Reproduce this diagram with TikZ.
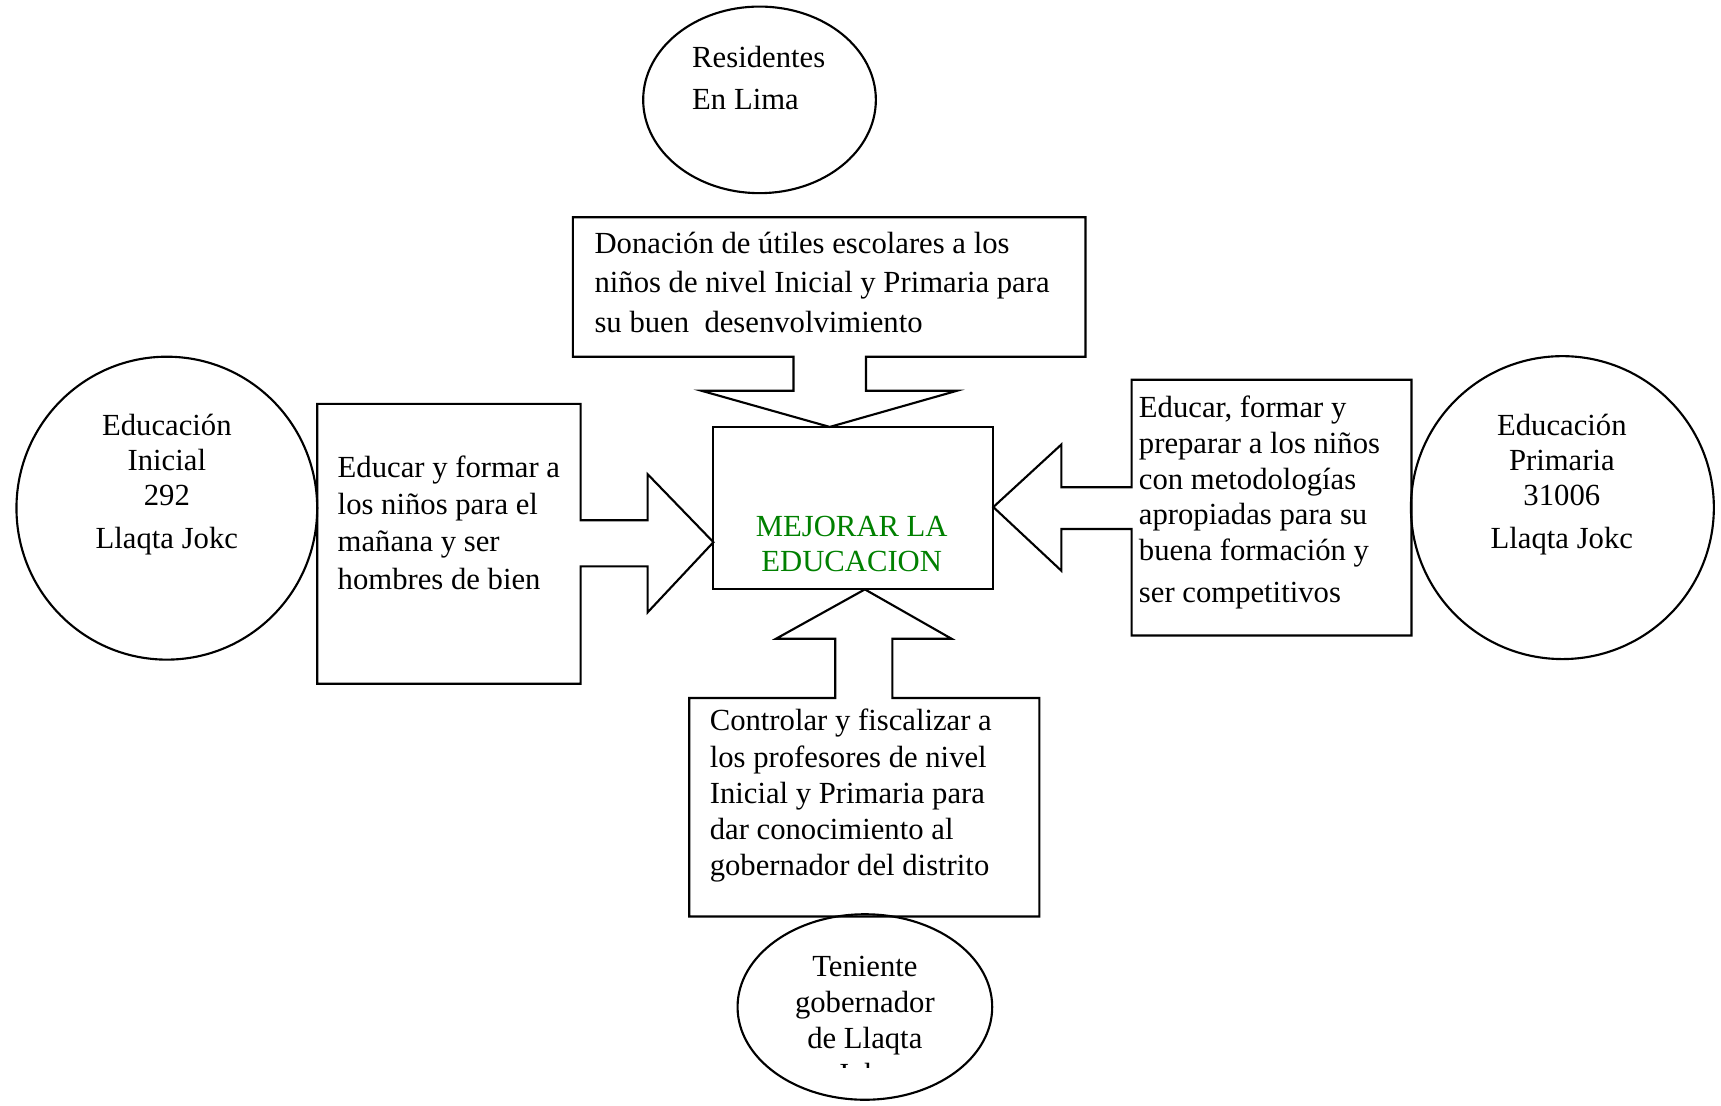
\documentclass[tikz,border=0pt]{standalone}
\usepackage{fontspec}
\setmainfont{Liberation Serif}
\usepackage{xcolor}
\definecolor{metagreen}{RGB}{0,128,0}

\begin{document}
\begin{tikzpicture}[x=0.01cm,y=-0.01cm,
        shape line/.style={draw=black,line width=0.55pt,line join=miter},
        boxtext/.style={anchor=base west,inner sep=0pt,align=left,font=\fontsize{7.95}{#1}\selectfont},
        circletext/.style={anchor=base,inner sep=0pt,align=center,font=\fontsize{7.95}{#1}\selectfont}]
    \useasboundingbox (0,0) rectangle (1568,1007);

    \draw[shape line] (692,91) ellipse [x radius=106,y radius=85];
    \draw[shape line] (152,463) ellipse [x radius=137,y radius=138];
    \draw[shape line] (1423.5,462.5) ellipse [x radius=138,y radius=138];
    \draw[shape line] (788,917.5) ellipse [x radius=116,y radius=84.5];

    \draw[shape line] (522,198) -- (989,198) -- (989,325) -- (789,325) -- (789,356) -- (872,356)
        -- (756,389) -- (639,356) -- (723,356) -- (723,325) -- (522,325) -- cycle;
    \draw[shape line] (289,368) -- (529,368) -- (529,474) -- (590,474) -- (590,432) -- (650,494)
        -- (590,558) -- (590,516) -- (529,516) -- (529,623) -- (289,623) -- cycle;
    \draw[shape line] (1286,346) -- (1286,579) -- (1031,579) -- (1031,482) -- (967,482) -- (967,520)
        -- (905,462) -- (967,405) -- (967,444) -- (1031,444) -- (1031,346) -- cycle;
    \draw[shape line] (628,835) -- (628,636) -- (761,636) -- (761,582) -- (707,582) -- (788,537)
        -- (867,582) -- (813,582) -- (813,636) -- (947,636) -- (947,835) -- cycle;
    \draw[shape line] (650,389) rectangle (905,537);

    \node[boxtext=10.3] (donacion) at (541,303) {Donación de útiles escolares a los\\niños de nivel Inicial y Primaria para\\su buen\ \ desenvolvimiento};
    \node[boxtext=9.7] (educar) at (307,537) {Educar y formar a\\los niños para el\\mañana y ser\\hombres de bien};
    \node[boxtext=9.25] (preparar) at (1037,549) {Educar, formar y\\preparar a los niños\\con metodologías\\apropiadas para su\\buena formación y\\[1.6pt]ser competitivos};
    \node[boxtext=9.4] (controlar) at (646,798) {Controlar y fiscalizar a\\los profesores de nivel\\Inicial y Primaria para\\dar conocimiento al\\gobernador del distrito};

    \node[boxtext=10.9] (res) at (630,100) {Residentes\\En Lima};
    \node[circletext=9] (ini) at (152,500) {Educación\\Inicial\\292\\[2.3pt]Llaqta Jokc};
    \node[circletext=9] (pri) at (1423,500) {Educación\\Primaria\\31006\\[2.3pt]Llaqta Jokc};
    \node[circletext=9.2,text=metagreen] (meta) at (776,521) {MEJORAR LA\\EDUCACION};
    \begin{scope}
        \clip (660,830) rectangle (920,973);
        \node[circletext=9.3] (ten) at (788,988) {Teniente\\gobernador\\de Llaqta\\Jokc};
    \end{scope}
\end{tikzpicture}
\end{document}
